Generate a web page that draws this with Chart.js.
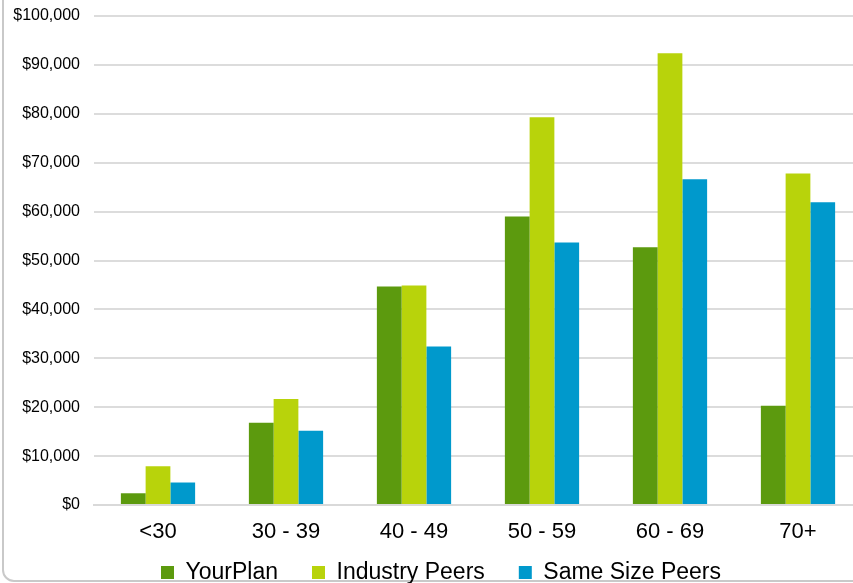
<!DOCTYPE html>
<html>
<head>
<meta charset="utf-8">
<script src="https://cdn.jsdelivr.net/npm/chart.js@4"></script>
<style>
  html, body { margin: 0; padding: 0; background: #fff; overflow: hidden; width: 853px; height: 583px; }
  #frame {
    position: absolute; left: 2px; top: -20px; width: 900px; height: 602px;
    border: 2px solid #c9c9c9; border-radius: 12px; box-sizing: border-box;
  }
  #wrap { position: absolute; left: 0; top: 0; width: 862px; height: 620px; }
</style>
</head>
<body>
<div id="frame"></div>
<div id="wrap"><canvas id="c" width="862" height="620"></canvas></div>
<script>
// Age bands on the x axis
const ageBands = ['<30', '30 - 39', '40 - 49', '50 - 59', '60 - 69', '70+'];

// Average balances per age band
const yourPlan      = [2400, 16800, 44700, 59000, 52700, 20300];
const industryPeers = [7900, 21700, 44900, 79300, 92400, 67800];
const sameSizePeers = [4600, 15200, 32400, 53700, 66600, 61900];

const yMin = 0, yMax = 100000, yStep = 10000;

const FONT = 'Liberation Sans, Arial, sans-serif';

// Moves the legend row closer to the axis labels and a little to the right
const legendShift = {
  id: 'legendShift',
  afterLayout(chart) {
    const lg = chart.legend;
    if (lg) {
      lg.left += 10; lg.right += 10;
      lg.top -= 22; lg.bottom -= 22;
    }
  }
};

const ctx = document.getElementById('c').getContext('2d');
new Chart(ctx, {
  type: 'bar',
  data: {
    labels: ageBands,
    datasets: [
      { label: 'YourPlan', data: yourPlan, backgroundColor: '#5c9a0e' },
      { label: 'Industry Peers', data: industryPeers, backgroundColor: '#b8d30b' },
      { label: 'Same Size Peers', data: sameSizePeers, backgroundColor: '#0099cc' }
    ]
  },
  plugins: [legendShift],
  options: {
    responsive: false,
    animation: false,
    devicePixelRatio: 1,
    layout: { padding: { left: 0, right: 0, top: 0, bottom: 4 } },
    datasets: { bar: { categoryPercentage: 0.58, barPercentage: 1.0 } },
    scales: {
      x: {
        afterFit: s => { s.height = 44; },
        grid: { display: false },
        border: { color: '#d9d9d9', width: 2 },
        ticks: { color: '#000', font: { family: FONT, size: 22 }, padding: 6 }
      },
      y: {
        min: yMin, max: yMax,
        afterFit: s => { s.width = 94; s.paddingTop = 16; s.paddingBottom = 0; },
        grid: { color: '#dcdcdc', lineWidth: 2, drawTicks: false },
        border: { display: false },
        ticks: {
          stepSize: yStep, padding: 14, color: '#000',
          font: { family: FONT, size: 16 },
          callback: v => '$' + v.toLocaleString('en-US')
        }
      }
    },
    plugins: {
      tooltip: { enabled: false },
      legend: {
        position: 'bottom',
        labels: {
          color: '#000',
          boxWidth: 13, boxHeight: 13, padding: 34,
          font: { family: FONT, size: 23 }
        }
      }
    }
  }
});
</script>
</body>
</html>
